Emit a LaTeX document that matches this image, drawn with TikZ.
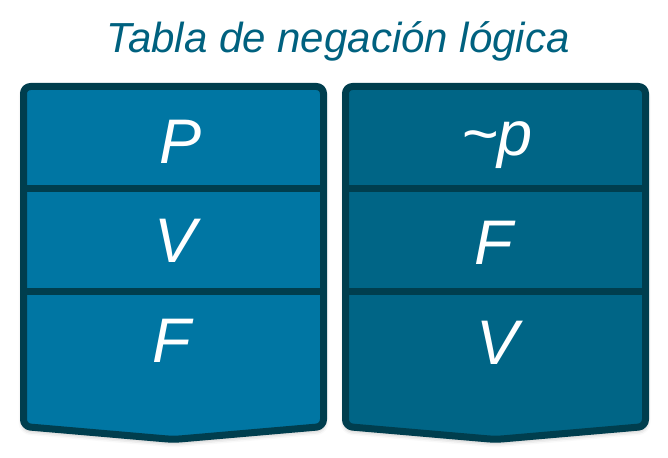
\documentclass[tikz,border=0pt]{standalone}
\usepackage{fontspec}
\setmainfont{Liberation Sans}
\usetikzlibrary{shadows.blur}
\definecolor{titlecol}{HTML}{00617F}
\definecolor{leftfill}{HTML}{0076A3}
\definecolor{rightfill}{HTML}{006586}
\definecolor{edgecol}{HTML}{003E4E}
\tikzset{
  colshape/.style={draw=edgecol, line width=7pt, rounded corners=7pt, line join=round,
    blur shadow={shadow xshift=0pt, shadow yshift=-3pt, shadow blur radius=5pt, shadow opacity=35}},
  divider/.style={draw=edgecol, line width=7pt},
  cell/.style={text=white, font=\itshape\fontsize{63}{70}\selectfont, anchor=base, inner sep=0pt},
  titletext/.style={text=titlecol, font=\itshape\fontsize{42}{50}\selectfont, anchor=base, inner sep=0pt}
}
\begin{document}
\begin{tikzpicture}[x=1pt,y=-1pt]
\useasboundingbox (0,0) rectangle (668,457);
\node[titletext] (title) at (338,53) {Tabla de negación lógica};
% left column
\path[colshape, fill=leftfill] (23.5,86.5) -- (323.5,86.5) -- (323.5,426.5) -- (173.5,439.5) -- (23.5,426.5) -- cycle;
\draw[divider] (23.5,188) -- (323.5,188);
\draw[divider] (23.5,291) -- (323.5,291);
% right column
\path[colshape, fill=rightfill] (345.5,86.5) -- (645.5,86.5) -- (645.5,426.5) -- (495.5,439.5) -- (345.5,426.5) -- cycle;
\draw[divider] (345.5,188) -- (645.5,188);
\draw[divider] (345.5,291) -- (645.5,291);
% cells
\node[cell] (p) at (181,163) {P};
\node[cell] (v1) at (176,262) {V};
\node[cell] (f1) at (172,362) {F};
\node[cell] (np) at (497,155) {\char"007E p};
\node[cell] (f2) at (494,264) {F};
\node[cell] (v2) at (498,364) {V};
\end{tikzpicture}
\end{document}
